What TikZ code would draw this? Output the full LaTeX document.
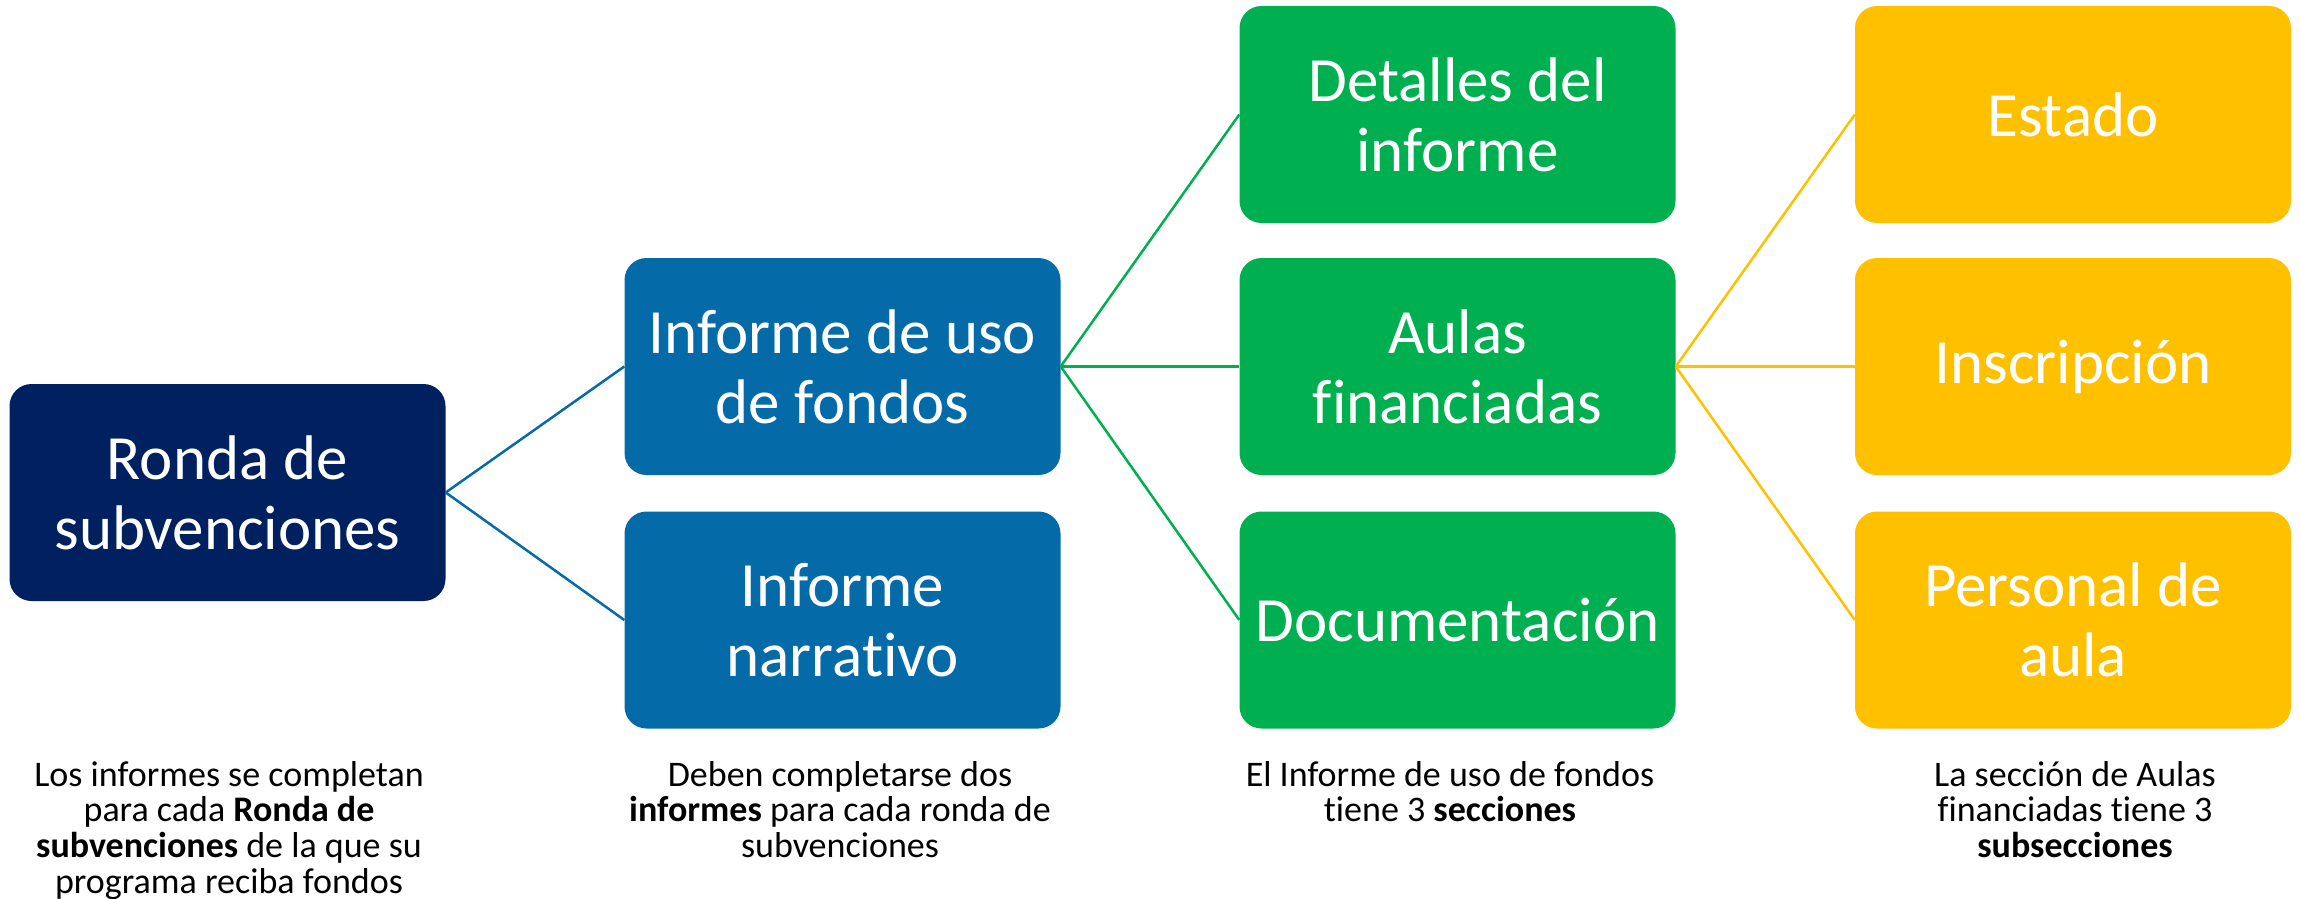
\documentclass[tikz,border=0pt]{standalone}
\usepackage{fontspec}
\setmainfont{Carlito}[Ligatures=NoCommon]
\definecolor{navy}{RGB}{0,32,96}
\definecolor{midblue}{RGB}{5,107,168}
\definecolor{grn}{RGB}{0,176,80}
\definecolor{org}{RGB}{255,192,0}
\tikzset{
  box/.style={rounded corners=22pt, minimum width=436pt, minimum height=217pt, inner sep=0pt,
    text=white, align=center, font=\fontsize{63}{70}\selectfont},
  lvl1/.style={box, fill=navy},
  lvl2/.style={box, fill=midblue},
  lvl3/.style={box, fill=grn},
  lvl4/.style={box, fill=org},
  conn/.style={line width=2.5pt},
  caption/.style={anchor=base, inner sep=0pt, text=black, font=\fontsize{36}{35.3}\selectfont}
}
\newcommand{\captab}[1]{\setlength{\tabcolsep}{0pt}\begin{tabular}[t]{c}#1\end{tabular}}
\begin{document}
\begin{tikzpicture}[x=1pt,y=1pt]
\useasboundingbox (0,0) rectangle (2300,-899);
\node[lvl1] (ronda) at (227.5,-492.5) {Ronda de\\subvenciones};
\node[lvl2] (inf) at (842.5,-366.5) {Informe de uso\\de fondos};
\node[lvl2] (narr) at (842.5,-620) {Informe\\narrativo};
\node[lvl3] (det) at (1457.5,-114.5) {Detalles del\\informe};
\node[lvl3] (aulas) at (1457.5,-366.5) {Aulas\\financiadas};
\node[lvl3] (doc) at (1457.5,-620) {Documentación};
\node[lvl4] (est) at (2073,-114.5) {Estado};
\node[lvl4] (insc) at (2073,-366.5) {Inscripción};
\node[lvl4] (pers) at (2073,-620) {Personal de\\aula};
\draw[conn, midblue] (ronda.east) -- (inf.west);
\draw[conn, midblue] (ronda.east) -- (narr.west);
\draw[conn, grn] (inf.east) -- (det.west);
\draw[conn, grn] (inf.east) -- (aulas.west);
\draw[conn, grn] (inf.east) -- (doc.west);
\draw[conn, org] (aulas.east) -- (est.west);
\draw[conn, org] (aulas.east) -- (insc.west);
\draw[conn, org] (aulas.east) -- (pers.west);
\node[caption] (c1) at (229,-786) {\captab{Los informes se completan\\para cada \textbf{Ronda de}\\\textbf{subvenciones} de la que su\\programa reciba fondos}};
\node[caption] (c2) at (840,-786) {\captab{Deben completarse dos\\\textbf{informes} para cada ronda de\\subvenciones}};
\node[caption] (c3) at (1450,-786) {\captab{El Informe de uso de fondos\\tiene 3 \textbf{secciones}}};
\node[caption] (c4) at (2075,-786) {\captab{La sección de Aulas\\financiadas tiene 3\\\textbf{subsecciones}}};
\end{tikzpicture}
\end{document}
